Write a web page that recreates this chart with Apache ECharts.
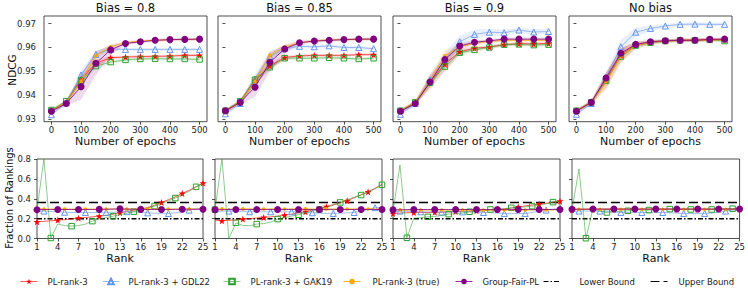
<!DOCTYPE html>
<html><head><meta charset="utf-8">
<script src="https://cdn.jsdelivr.net/npm/echarts@6/dist/echarts.min.js"></script>
<style>html,body{margin:0;padding:0;background:#fff}#c{width:748px;height:293px}</style>
</head><body><div id="c"></div><script>
// ---------------- DATA ----------------
const panelTitles = ['Bias = 0.8', 'Bias = 0.85', 'Bias = 0.9', 'No bias'];
const methods = ['PL-rank-3', 'PL-rank-3 + GDL22', 'PL-rank-3 + GAK19', 'PL-rank-3 (true)', 'Group-Fair-PL'];
const boundNames = ['Lower Bound', 'Upper Bound'];
const epochs = [0, 50, 100, 150, 200, 250, 300, 350, 400, 450, 500];
const epochTicks = [0, 100, 200, 300, 400, 500];
const ndcgTicks = [0.93, 0.94, 0.95, 0.96, 0.97];
const ranks = [1,2,3,4,5,6,7,8,9,10,11,12,13,14,15,16,17,18,19,20,21,22,23,24,25];
const rankTicks = [1, 4, 7, 10, 13, 16, 19, 22, 25];
const fracTicks = [0, 0.2, 0.4, 0.6, 0.8];
const lowerBound = 0.2;
const upperBound = 0.363;

// NDCG means (top row)
const ndcg_b080_plrank = [0.9335,0.9370,0.9468,0.9534,0.9557,0.9560,0.9562,0.9563,0.9564,0.9567,0.9567];
const ndcg_b080_gdl    = [0.9318,0.9368,0.9485,0.9571,0.9593,0.9592,0.9592,0.9592,0.9592,0.9592,0.9592];
const ndcg_b080_gak    = [0.9338,0.9375,0.9462,0.9522,0.9539,0.9548,0.9552,0.9553,0.9552,0.9552,0.9550];
const ndcg_b080_true   = [0.9335,0.9370,0.9459,0.9567,0.9603,0.9620,0.9627,0.9630,0.9633,0.9634,0.9634];
const ndcg_b080_gfpl   = [0.9333,0.9365,0.9436,0.9534,0.9590,0.9617,0.9624,0.9630,0.9633,0.9634,0.9635];

const ndcg_b085_plrank = [0.9332,0.9373,0.9462,0.9522,0.9558,0.9565,0.9567,0.9567,0.9567,0.9570,0.9570];
const ndcg_b085_gdl    = [0.9322,0.9365,0.9468,0.9562,0.9595,0.9605,0.9603,0.9607,0.9600,0.9600,0.9595];
const ndcg_b085_gak    = [0.9335,0.9375,0.9465,0.9517,0.9555,0.9555,0.9555,0.9557,0.9555,0.9552,0.9555];
const ndcg_b085_true   = [0.9335,0.9372,0.9458,0.9567,0.9602,0.9620,0.9628,0.9632,0.9633,0.9635,0.9635];
const ndcg_b085_gfpl   = [0.9335,0.9370,0.9434,0.9538,0.9594,0.9620,0.9627,0.9630,0.9633,0.9635,0.9635];

const ndcg_b090_plrank = [0.9333,0.9370,0.9455,0.9530,0.9582,0.9597,0.9602,0.9612,0.9616,0.9615,0.9617];
const ndcg_b090_gdl    = [0.9320,0.9365,0.9465,0.9550,0.9624,0.9655,0.9664,0.9662,0.9673,0.9665,0.9667];
const ndcg_b090_gak    = [0.9335,0.9370,0.9452,0.9520,0.9578,0.9590,0.9600,0.9612,0.9613,0.9610,0.9612];
const ndcg_b090_true   = [0.9335,0.9370,0.9460,0.9565,0.9602,0.9618,0.9625,0.9630,0.9630,0.9630,0.9630];
const ndcg_b090_gfpl   = [0.9333,0.9365,0.9455,0.9550,0.9606,0.9622,0.9628,0.9635,0.9635,0.9635,0.9635];

const ndcg_nob_plrank  = [0.9335,0.9370,0.9462,0.9568,0.9610,0.9622,0.9628,0.9631,0.9631,0.9634,0.9633];
const ndcg_nob_gdl     = [0.9320,0.9365,0.9475,0.9603,0.9664,0.9680,0.9690,0.9697,0.9698,0.9697,0.9697];
const ndcg_nob_gak     = [0.9335,0.9370,0.9460,0.9562,0.9608,0.9620,0.9627,0.9630,0.9630,0.9632,0.9627];
const ndcg_nob_true    = [0.9335,0.9370,0.9457,0.9565,0.9608,0.9622,0.9627,0.9630,0.9630,0.9632,0.9632];
const ndcg_nob_gfpl    = [0.9333,0.9370,0.9472,0.9576,0.9613,0.9624,0.9628,0.9630,0.9630,0.9634,0.9635];

// NDCG spread (half width of shaded band)
const sd_b080_plrank = [0.0006,0.0008,0.0015,0.0015,0.0008,0.0006,0.0006,0.0006,0.0006,0.0006,0.0006];
const sd_b080_gdl    = [0.0006,0.0008,0.0020,0.0015,0.0008,0.0006,0.0006,0.0006,0.0006,0.0006,0.0006];
const sd_b080_gak    = [0.0006,0.0008,0.0015,0.0012,0.0008,0.0006,0.0006,0.0006,0.0006,0.0006,0.0006];
const sd_b080_true   = [0.0006,0.0008,0.0020,0.0015,0.0010,0.0006,0.0006,0.0006,0.0006,0.0006,0.0006];
const sd_b080_gfpl   = [0.0006,0.0010,0.0055,0.0050,0.0020,0.0008,0.0006,0.0006,0.0006,0.0006,0.0006];

const sd_b085_plrank = [0.0006,0.0008,0.0015,0.0015,0.0008,0.0006,0.0006,0.0006,0.0006,0.0006,0.0006];
const sd_b085_gdl    = [0.0006,0.0008,0.0020,0.0022,0.0012,0.0008,0.0007,0.0007,0.0007,0.0007,0.0007];
const sd_b085_gak    = [0.0006,0.0008,0.0015,0.0012,0.0008,0.0006,0.0006,0.0006,0.0006,0.0006,0.0006];
const sd_b085_true   = [0.0006,0.0008,0.0020,0.0018,0.0010,0.0006,0.0006,0.0006,0.0006,0.0006,0.0006];
const sd_b085_gfpl   = [0.0006,0.0010,0.0040,0.0040,0.0018,0.0008,0.0006,0.0006,0.0006,0.0006,0.0006];

const sd_b090_plrank = [0.0006,0.0008,0.0030,0.0030,0.0012,0.0008,0.0007,0.0007,0.0007,0.0007,0.0007];
const sd_b090_gdl    = [0.0006,0.0008,0.0020,0.0030,0.0025,0.0020,0.0015,0.0013,0.0012,0.0012,0.0012];
const sd_b090_gak    = [0.0006,0.0008,0.0015,0.0015,0.0010,0.0008,0.0007,0.0007,0.0007,0.0007,0.0007];
const sd_b090_true   = [0.0006,0.0008,0.0030,0.0025,0.0012,0.0008,0.0007,0.0007,0.0007,0.0007,0.0007];
const sd_b090_gfpl   = [0.0006,0.0010,0.0020,0.0020,0.0012,0.0008,0.0007,0.0007,0.0007,0.0007,0.0007];

const sd_nob_plrank  = [0.0006,0.0008,0.0035,0.0030,0.0015,0.0008,0.0007,0.0007,0.0007,0.0007,0.0007];
const sd_nob_gdl     = [0.0006,0.0008,0.0020,0.0030,0.0020,0.0012,0.0009,0.0008,0.0008,0.0008,0.0008];
const sd_nob_gak     = [0.0006,0.0008,0.0020,0.0020,0.0010,0.0008,0.0007,0.0007,0.0007,0.0007,0.0007];
const sd_nob_true    = [0.0006,0.0008,0.0035,0.0030,0.0015,0.0008,0.0007,0.0007,0.0007,0.0007,0.0007];
const sd_nob_gfpl    = [0.0006,0.0010,0.0020,0.0020,0.0010,0.0008,0.0007,0.0007,0.0007,0.0007,0.0007];

// Fraction of rankings (bottom row)
const frac_b080_plrank = [0.168,0.172,0.178,0.185,0.190,0.197,0.205,0.211,0.218,0.225,0.233,0.245,0.259,0.272,0.285,0.295,0.312,0.335,0.363,0.390,0.420,0.454,0.485,0.520,0.558];
const frac_b080_gdl    = [0.270,0.276,0.272,0.268,0.264,0.262,0.262,0.262,0.262,0.263,0.263,0.265,0.268,0.270,0.268,0.262,0.258,0.255,0.253,0.252,0.258,0.270,0.285,0.298,0.310];
const frac_b080_gak    = [0.290,0.800,0.005,0.145,0.130,0.124,0.130,0.145,0.175,0.195,0.210,0.225,0.240,0.255,0.270,0.285,0.305,0.326,0.350,0.378,0.407,0.440,0.475,0.520,0.550];
const frac_b080_true   = [0.298,0.297,0.297,0.296,0.296,0.296,0.297,0.296,0.296,0.296,0.297,0.296,0.296,0.297,0.296,0.296,0.296,0.297,0.296,0.296,0.297,0.297,0.296,0.296,0.297];
const frac_b080_gfpl   = [0.290,0.291,0.291,0.292,0.292,0.292,0.291,0.291,0.292,0.293,0.294,0.296,0.298,0.296,0.294,0.293,0.292,0.292,0.292,0.292,0.293,0.295,0.295,0.294,0.294];

const frac_b085_plrank = [0.185,0.178,0.183,0.188,0.195,0.200,0.206,0.212,0.218,0.225,0.235,0.245,0.257,0.270,0.285,0.300,0.320,0.340,0.360,0.380,0.410,0.440,0.470,0.505,0.545];
const frac_b085_gdl    = [0.270,0.274,0.276,0.272,0.270,0.269,0.269,0.269,0.269,0.269,0.269,0.269,0.265,0.262,0.259,0.255,0.253,0.252,0.255,0.258,0.262,0.275,0.290,0.310,0.315];
const frac_b085_gak    = [0.290,0.800,0.000,0.158,0.132,0.128,0.145,0.150,0.165,0.195,0.210,0.225,0.239,0.260,0.275,0.292,0.310,0.335,0.363,0.390,0.415,0.437,0.470,0.500,0.540];
const frac_b085_true   = [0.298,0.298,0.297,0.297,0.298,0.298,0.297,0.297,0.298,0.298,0.297,0.297,0.298,0.298,0.297,0.297,0.298,0.298,0.297,0.297,0.298,0.298,0.297,0.298,0.298];
const frac_b085_gfpl   = [0.290,0.290,0.291,0.291,0.291,0.291,0.291,0.291,0.291,0.291,0.292,0.292,0.292,0.292,0.291,0.291,0.291,0.291,0.291,0.291,0.292,0.292,0.292,0.292,0.292];

const frac_b090_plrank = [0.252,0.256,0.259,0.261,0.262,0.262,0.263,0.265,0.268,0.271,0.274,0.277,0.280,0.283,0.287,0.292,0.298,0.306,0.318,0.328,0.337,0.346,0.355,0.365,0.376];
const frac_b090_gdl    = [0.270,0.276,0.273,0.270,0.269,0.268,0.267,0.266,0.266,0.267,0.268,0.267,0.264,0.262,0.260,0.256,0.252,0.252,0.252,0.252,0.262,0.275,0.286,0.295,0.300];
const frac_b090_gak    = [0.270,0.739,0.007,0.205,0.210,0.218,0.222,0.232,0.245,0.250,0.256,0.269,0.272,0.278,0.292,0.295,0.300,0.309,0.312,0.318,0.326,0.335,0.348,0.366,0.375];
const frac_b090_true   = [0.290,0.288,0.287,0.286,0.286,0.286,0.286,0.286,0.286,0.286,0.286,0.286,0.286,0.286,0.286,0.286,0.286,0.287,0.287,0.287,0.287,0.287,0.287,0.287,0.288];
const frac_b090_gfpl   = [0.288,0.289,0.290,0.292,0.292,0.292,0.292,0.292,0.292,0.292,0.292,0.292,0.292,0.292,0.291,0.291,0.291,0.291,0.291,0.291,0.291,0.292,0.292,0.292,0.292];

const frac_nob_plrank  = [0.290,0.292,0.293,0.294,0.294,0.294,0.295,0.295,0.295,0.295,0.295,0.295,0.295,0.295,0.295,0.295,0.295,0.295,0.295,0.295,0.295,0.295,0.295,0.296,0.296];
const frac_nob_gdl     = [0.270,0.276,0.276,0.276,0.276,0.272,0.266,0.262,0.262,0.262,0.262,0.262,0.262,0.262,0.260,0.255,0.252,0.252,0.252,0.252,0.256,0.265,0.276,0.285,0.290];
const frac_nob_gak     = [0.290,0.699,0.003,0.300,0.276,0.262,0.270,0.275,0.279,0.285,0.288,0.286,0.290,0.290,0.296,0.292,0.290,0.292,0.291,0.290,0.292,0.295,0.298,0.300,0.305];
const frac_nob_true    = [0.295,0.295,0.295,0.295,0.295,0.295,0.295,0.295,0.295,0.295,0.295,0.295,0.295,0.295,0.295,0.295,0.295,0.295,0.295,0.295,0.295,0.295,0.295,0.295,0.295];
const frac_nob_gfpl    = [0.294,0.295,0.295,0.296,0.296,0.296,0.296,0.296,0.296,0.296,0.296,0.296,0.296,0.296,0.296,0.296,0.296,0.296,0.296,0.296,0.296,0.296,0.296,0.296,0.296];

// marker offsets (every 3rd point) for bottom row, per panel, per method
const markOffsets = [[0,1,2,1,0],[1,2,0,1,0],[0,1,2,1,0],[0,1,2,1,0]];

// ---------------- LAYOUT / STYLE ----------------
const topData = [
  [ndcg_b080_plrank, ndcg_b080_gdl, ndcg_b080_gak, ndcg_b080_true, ndcg_b080_gfpl],
  [ndcg_b085_plrank, ndcg_b085_gdl, ndcg_b085_gak, ndcg_b085_true, ndcg_b085_gfpl],
  [ndcg_b090_plrank, ndcg_b090_gdl, ndcg_b090_gak, ndcg_b090_true, ndcg_b090_gfpl],
  [ndcg_nob_plrank,  ndcg_nob_gdl,  ndcg_nob_gak,  ndcg_nob_true,  ndcg_nob_gfpl]
];
const topSd = [
  [sd_b080_plrank, sd_b080_gdl, sd_b080_gak, sd_b080_true, sd_b080_gfpl],
  [sd_b085_plrank, sd_b085_gdl, sd_b085_gak, sd_b085_true, sd_b085_gfpl],
  [sd_b090_plrank, sd_b090_gdl, sd_b090_gak, sd_b090_true, sd_b090_gfpl],
  [sd_nob_plrank,  sd_nob_gdl,  sd_nob_gak,  sd_nob_true,  sd_nob_gfpl]
];
const botData = [
  [frac_b080_plrank, frac_b080_gdl, frac_b080_gak, frac_b080_true, frac_b080_gfpl],
  [frac_b085_plrank, frac_b085_gdl, frac_b085_gak, frac_b085_true, frac_b085_gfpl],
  [frac_b090_plrank, frac_b090_gdl, frac_b090_gak, frac_b090_true, frac_b090_gfpl],
  [frac_nob_plrank,  frac_nob_gdl,  frac_nob_gak,  frac_nob_true,  frac_nob_gfpl]
];

const STAR = 'path://M0,-10L2.35,-3.24L9.51,-3.09L3.8,1.24L5.88,8.09L0,4.2L-5.88,8.09L-3.8,1.24L-9.51,-3.09L-2.35,-3.24Z';
const sty = [
  {color:'#ff0000', symbol:STAR, size:7, hollow:false, lop:0.65},
  {color:'#6495ED', symbol:'triangle', size:6, hollow:true, lop:0.6},
  {color:'#2ca02c', symbol:'rect', size:5.5, hollow:true, lop:0.55},
  {color:'#FFA500', symbol:'circle', size:3.5, hollow:false, lop:0.8},
  {color:'#800080', symbol:'circle', size:7, hollow:false, lop:0.8}
];
const FONT = 'DejaVu Sans';
const topLeft = [44, 218, 393, 569], topW = 163, topTop = 16, topH = 105.7;
const botLeft = [37, 215, 393, 572], botW = [166, 167, 167, 168], botTop = 159, botH = 79.5;

const grid = [], xAxis = [], yAxis = [], series = [], graphic = [];
const tickStyle = {color:'#222', width:0.8};
for (let p = 0; p < 4; p++) {
  grid.push({left: topLeft[p], top: topTop, width: topW, height: topH, show: true, borderColor: '#222', borderWidth: 0.8, containLabel: false});
}
for (let p = 0; p < 4; p++) {
  grid.push({left: botLeft[p], top: botTop, width: botW[p], height: botH, show: true, borderColor: '#222', borderWidth: 0.8, containLabel: false});
}
for (let p = 0; p < 4; p++) {
  xAxis.push({type:'value', gridIndex:p, min:-25, max:525, axisLine:{show:false},
    axisTick:{show:true, length:3, customValues:epochTicks, lineStyle:tickStyle},
    axisLabel:{customValues:epochTicks, fontSize:8.5, fontFamily:FONT, color:'#222', margin:4},
    splitLine:{show:false}});
  yAxis.push({type:'value', gridIndex:p, min:0.9289, max:0.9732, axisLine:{show:false},
    axisTick:{show:true, length:3, customValues:ndcgTicks, lineStyle:tickStyle},
    axisLabel:{show:p===0, customValues:ndcgTicks, fontSize:8.5, fontFamily:FONT, color:'#222', margin:8, formatter:v=>v.toFixed(2)},
    splitLine:{show:false}});
}
for (let p = 0; p < 4; p++) {
  xAxis.push({type:'value', gridIndex:4+p, min:1, max:25, axisLine:{show:false},
    axisTick:{show:true, length:3, customValues:rankTicks, lineStyle:tickStyle},
    axisLabel:{customValues:rankTicks, fontSize:8.5, fontFamily:FONT, color:'#222', margin:4},
    splitLine:{show:false}});
  yAxis.push({type:'value', gridIndex:4+p, min:0, max:0.8, axisLine:{show:false},
    axisTick:{show:true, length:3, customValues:fracTicks, lineStyle:tickStyle},
    axisLabel:{show:p===0, customValues:fracTicks, fontSize:8.5, fontFamily:FONT, color:'#222', margin:6, formatter:v=>v.toFixed(1)},
    splitLine:{show:false}});
}

function bandSeries(gi, xs, mean, sd, color) {
  return {type:'custom', name:'band', xAxisIndex:gi, yAxisIndex:gi, silent:true, z:1, clip:true,
    data: xs.map((x,i)=>[x, mean[i]-sd[i], mean[i]+sd[i]]),
    encode:{x:0, y:[1,2]},
    renderItem:(params, api)=>{
      if (params.dataIndex !== 0) return null;
      const up = [], lo = [];
      xs.forEach((x,i)=>{ up.push(api.coord([x, mean[i]+sd[i]])); lo.push(api.coord([x, mean[i]-sd[i]])); });
      return {type:'polygon', shape:{points: up.concat(lo.reverse())}, style:{fill: color, opacity: 0.14}};
    }};
}
function lineSeries(gi, xs, ys, m, sizeFn) {
  const s = sty[m];
  return {type:'line', name: methods[m], xAxisIndex:gi, yAxisIndex:gi, z: 3 + m,
    data: xs.map((x,i)=>[x, ys[i]]),
    symbol: s.symbol, symbolSize: sizeFn || s.size, showAllSymbol:true,
    lineStyle:{color:s.color, width:1, opacity:s.lop},
    itemStyle: s.hollow ? {color:'rgba(255,255,255,0)', borderColor:s.color, borderWidth:1} : {color:s.color, borderWidth:0},
    emphasis:{disabled:true}};
}

// top row
for (let p = 0; p < 4; p++) {
  for (let m = 0; m < 5; m++) series.push(bandSeries(p, epochs, topData[p][m], topSd[p][m], sty[m].color));
}
for (let p = 0; p < 4; p++) {
  for (let m = 0; m < 5; m++) series.push(lineSeries(p, epochs, topData[p][m], m));
}
// bottom row
for (let p = 0; p < 4; p++) {
  const gi = 4 + p;
  series.push({type:'line', name: boundNames[0], xAxisIndex:gi, yAxisIndex:gi, z:2, symbol:'none',
    data: [[ranks[0], lowerBound], [ranks[ranks.length-1], lowerBound]],
    lineStyle:{color:'#000', width:1.5, type:[5,2,1.5,2]}, emphasis:{disabled:true}});
  series.push({type:'line', name: boundNames[1], xAxisIndex:gi, yAxisIndex:gi, z:2, symbol:'none',
    data: [[ranks[0], upperBound], [ranks[ranks.length-1], upperBound]],
    lineStyle:{color:'#000', width:1.5, type:[9,4]}, emphasis:{disabled:true}});
  for (let m = 0; m < 5; m++) {
    const off = markOffsets[p][m], sz = sty[m].size;
    series.push(lineSeries(gi, ranks, botData[p][m], m, (v, prm) => (prm.dataIndex % 3 === off ? sz : 0)));
  }
}

// text
const txt = (text, x, y, size, rot) => ({type:'text', x, y, rotation: rot || 0, silent:true,
  style:{text, fontSize:size, fontFamily:FONT, fill:'#111', align:'center', verticalAlign:'middle'}});
for (let p = 0; p < 4; p++) {
  graphic.push(txt(panelTitles[p], topLeft[p] + topW/2, 8, 11.5));
  graphic.push(txt('Number of epochs', topLeft[p] + topW/2, 141, 11));
  graphic.push(txt('Rank', botLeft[p] + botW[p]/2, 258, 11));
}
graphic.push(txt('NDCG', 12, 70, 10.5, Math.PI/2));
graphic.push(txt('Fraction of Rankings', 9, 198, 10, Math.PI/2));

// legends (one per item to match positions)
const legendLeft = [20, 102, 223, 343, 455, 543, 650];
const legendNames = methods.concat(boundNames);
const legendPad = [5, 4, 5, 7, 5, 14, 6];
const legend = legendNames.map((n, i) => ({
  data:[i < 5 ? {name:n} : {name:n, itemStyle:{opacity:0}}],
  left: legendLeft[i], top: 277, itemWidth:17, itemHeight:7,
  lineStyle:{width:1},
  padding:0, textStyle:{fontSize:8.5, fontFamily:FONT, color:'#222', padding:[0,0,0,legendPad[i]]}, selectedMode:false}));

const chart = echarts.init(document.getElementById('c'), null, {renderer:'svg'});
chart.setOption({animation:false, backgroundColor:'#fff', grid, xAxis, yAxis, series, graphic, legend});
</script></body></html>
